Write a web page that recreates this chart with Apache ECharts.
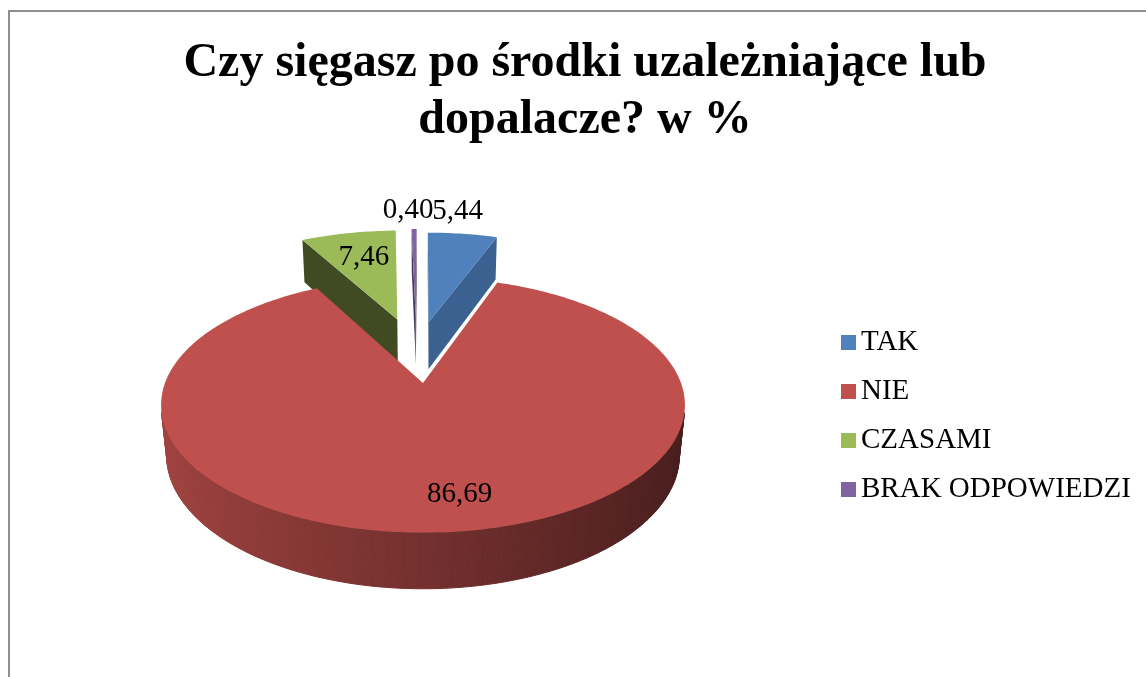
<!DOCTYPE html>
<html>
<head>
<meta charset="utf-8">
<script src="https://cdn.jsdelivr.net/npm/echarts@6/dist/echarts.min.js"></script>
<style>
  html, body { margin: 0; padding: 0; background: #fff; }
  #chart { width: 1146px; height: 677px; }
</style>
</head>
<body>
<div id="chart"></div>
<script>
// data
const categories = ['TAK', 'NIE', 'CZASAMI', 'BRAK ODPOWIEDZI']
const values = [5.44, 86.69, 7.46, 0.40]
const titleText = 'Czy sięgasz po środki uzależniające lub\ndopalacze? w %'

// look
const colors = ['#4F81BD', '#C0504D', '#9BBB59', '#8064A2']
const cutColors = ['#3B6190', '#7a302e', '#404B23', '#4a3a60']
const explode = [140, 0, 150, 150]
const labelPlace = [
  { r: 1, dx: -5, dy: -22 },
  { r: 0.78, dx: 19, dy: 0 },
  { r: 0.78, dx: 6, dy: 7 },
  { r: 1, dx: -6, dy: -19 }
]
const FONT = '"Liberation Serif", "Times New Roman", serif'

// 3d projection of the pie (camera tilt + perspective)
const CX = 423, CY = 383, R = 258, H = 58, D = 1315
const SIN_A = 0.48, COS_A = Math.sqrt(1 - SIN_A * SIN_A)

const total = values.reduce((s, v) => s + v, 0)
const startAngles = []
values.reduce((acc, v, i) => { startAngles[i] = acc; return acc + v / total * 360 }, 0)

const rad = d => d * Math.PI / 180
function project(X, Z, Y) {
  const yUp = Y * COS_A + Z * SIN_A
  const depth = Z * COS_A - Y * SIN_A
  const s = D / (D + depth)
  return [CX + X * s, CY - yUp * s]
}
function area(pts) {
  let s = 0
  for (let k = 0; k < pts.length; k++) {
    const p = pts[k], q = pts[(k + 1) % pts.length]
    s += p[0] * q[1] - q[0] * p[1]
  }
  return s / 2
}
function shade(hex, f) {
  const n = parseInt(hex.slice(1), 16)
  const c = [(n >> 16) & 255, (n >> 8) & 255, n & 255].map(x => Math.max(0, Math.min(255, Math.round(x * f))))
  return 'rgb(' + c.join(',') + ')'
}

function makeRender(i) {
  return function (params, api) {
    const v = api.value(0)
    const a = startAngles[i], b = a + v / total * 360
    const mid = (a + b) / 2
    // exploded slices move out mostly towards the back, drifting a bit left
    const ox = explode[i] ? Math.sin(rad(mid)) * explode[i] * 0.55 - 7 : 0
    const oz = Math.cos(rad(mid)) * explode[i]
    const pt = (th, r, y) => project(ox + r * Math.sin(rad(th)), oz + r * Math.cos(rad(th)), y)
    const steps = Math.max(2, Math.ceil(b - a))
    const top = [], bot = []
    for (let k = 0; k <= steps; k++) {
      const th = a + (b - a) * k / steps
      top.push(pt(th, R, 0))
      bot.push(pt(th, R, -H))
    }
    const cTop = pt(0, 0, 0), cBot = pt(0, 0, -H)
    const base = explode[i] ? 0 : 100
    const children = []
    for (let k = 0; k < steps; k++) {
      const quad = [top[k], bot[k], bot[k + 1], top[k + 1]]
      if (area(quad) <= 0) continue
      const th = a + (b - a) * (k + 0.5) / steps
      const fill = shade(colors[i], 0.6 - 0.24 * Math.sin(rad(th)))
      children.push({ type: 'polygon', z2: base + 1, shape: { points: quad }, style: { fill, stroke: fill, lineWidth: 1 } })
    }
    const faceA = [cTop, cBot, bot[0], top[0]]
    const faceB = [cTop, top[steps], bot[steps], cBot]
    ;[faceA, faceB].forEach(f => {
      if (area(f) > 0) children.push({ type: 'polygon', z2: base + 2, shape: { points: f }, style: { fill: cutColors[i] } })
    })
    children.push({ type: 'polygon', z2: base + 3, shape: { points: [cTop].concat(top) }, style: { fill: colors[i] } })

    const lp = labelPlace[i]
    const p = pt(mid, R * lp.r, 0)
    children.push({
      type: 'text', z2: 300, x: p[0] + lp.dx, y: p[1] + lp.dy,
      style: { text: v.toFixed(2).replace('.', ','), fill: '#000', font: '29px ' + FONT, align: 'center', verticalAlign: 'middle' }
    })
    return { type: 'group', children }
  }
}

const chart = echarts.init(document.getElementById('chart'))
chart.setOption({
  animation: false,
  title: {
    text: titleText, left: 585, top: 35, textAlign: 'center', padding: 0,
    textStyle: { fontFamily: FONT, fontSize: 48, fontWeight: 'bold', lineHeight: 57, color: '#000' }
  },
  legend: {
    data: categories, orient: 'vertical', left: 841, top: 327, padding: 0,
    icon: 'rect', itemWidth: 15, itemHeight: 15, itemGap: 18, selectedMode: false,
    textStyle: { fontFamily: FONT, fontSize: 29, lineHeight: 31, color: '#000' }
  },
  graphic: [{
    type: 'rect', silent: true, shape: { x: 9, y: 11, width: 1300, height: 800 },
    style: { fill: 'none', stroke: '#8e8e8e', lineWidth: 2 }
  }],
  series: categories.map((name, i) => ({
    type: 'custom', name, coordinateSystem: 'none',
    itemStyle: { color: colors[i] },
    data: [values[i]],
    renderItem: makeRender(i)
  }))
})
</script>
</body>
</html>
